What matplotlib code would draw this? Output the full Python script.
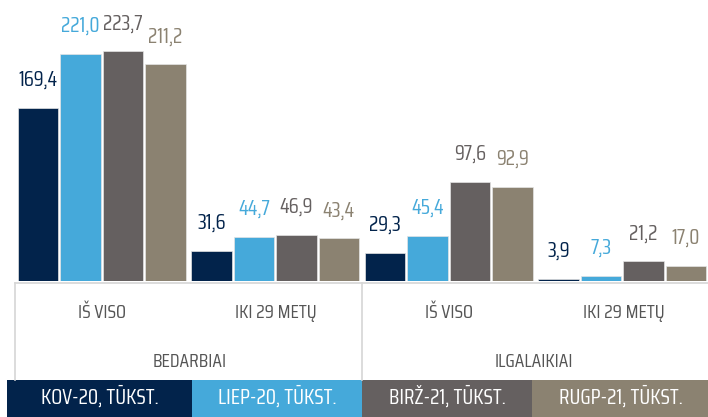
import matplotlib
matplotlib.use("Agg")
import matplotlib.pyplot as plt
from matplotlib.patches import Rectangle
from matplotlib.lines import Line2D
import numpy as np

plt.rcParams['font.family'] = ['Saira Condensed', 'DejaVu Sans']

# ---- data ----
groups = ["BEDARBIAI", "ILGALAIKIAI"]
subcats = ["IŠ VISO", "IKI 29 METŲ", "IŠ VISO", "IKI 29 METŲ"]
series = ["KOV-20, TŪKST.", "LIEP-20, TŪKST.", "BIRŽ-21, TŪKST.", "RUGP-21, TŪKST."]
kov20 = [169.4, 31.6, 29.3, 3.9]
liep20 = [221.0, 44.7, 45.4, 7.3]
birz21 = [223.7, 46.9, 97.6, 21.2]
rugp21 = [211.2, 43.4, 92.9, 17.0]
values = [kov20, liep20, birz21, rugp21]
colors = ["#02234B", "#45A9DA", "#656060", "#8B8271"]

W, H = 708, 417
fig = plt.figure(figsize=(W / 100, H / 100), dpi=100)

def fx(x):
    return x / W

def fy(y):
    return 1 - y / H

# main axes: x 15..709 px, y 0..281 px
ax = fig.add_axes([fx(15), fy(281), (709 - 15) / W, 281 / H])
ax.set_xlim(-0.5, 3.5)
ax.set_ylim(2.2, 273.2)
ax.axis('off')

pitch = 0.2446
bw = 0.232
x = np.arange(len(subcats))
for k, (vals, c) in enumerate(zip(values, colors)):
    xs = x + (k - 1.5) * pitch
    ax.bar(xs, vals, width=bw, color=c, edgecolor="#e4e4e4", linewidth=0.5, zorder=2)
    for xi, v in zip(xs, vals):
        ax.annotate(f"{v:.1f}".replace(".", ","), xy=(xi, v), xytext=(0, 22 * 0.72),
                    textcoords="offset points", ha="center", va="baseline",
                    color=c, fontsize=15, clip_on=False)

# category axis lines
lc = "#d6d6d6"
fig.add_artist(Line2D([fx(15), fx(708)], [fy(283), fy(283)], color=lc, lw=1.2))
fig.add_artist(Line2D([fx(15), fx(15)], [fy(283), fy(380)], color=lc, lw=1.2))
fig.add_artist(Line2D([fx(362), fx(362)], [fy(283), fy(380)], color=lc, lw=1.2))

tc = "#555555"
sub_x = [102, 276, 449, 624]
sub_texts = []
for sx, s in zip(sub_x, subcats):
    sub_texts.append(fig.text(fx(sx), fy(312.5), s, ha="center", va="center", color=tc, fontsize=16))
grp_x = [189.5, 534]
grp_texts = []
for gx, g in zip(grp_x, groups):
    grp_texts.append(fig.text(fx(gx), fy(362), g, ha="center", va="center", color=tc, fontsize=16))

# legend boxes
edges = [7, 192, 362, 532, 710]
leg_texts = []
for i, (s, c) in enumerate(zip(series, colors)):
    fig.add_artist(Rectangle((fx(edges[i]), fy(417)), fx(edges[i + 1] - edges[i]), fy(380) - fy(417),
                             transform=fig.transFigure, facecolor=c, edgecolor="none"))
    cx = (edges[i] + edges[i + 1]) / 2
    leg_texts.append(fig.text(fx(cx), fy(397), s, ha="center", va="center", color="white", fontsize=16))

# fit font sizes to the reference text widths
fig.canvas.draw()
r = fig.canvas.get_renderer()

def fit_size(t, target):
    w = t.get_window_extent(r).width
    return t.get_fontsize() * target / w

ss = np.mean([fit_size(sub_texts[0], 48), fit_size(sub_texts[1], 82)])
for t in sub_texts:
    t.set_fontsize(ss)
gs = np.mean([fit_size(grp_texts[0], 75), fit_size(grp_texts[1], 78)])
for t in grp_texts:
    t.set_fontsize(gs)
ls = np.mean([fit_size(t, w) for t, w in zip(leg_texts, [115, 117, 118, 124])])
for t in leg_texts:
    t.set_fontsize(ls)

fig.savefig("out.png", dpi=100)
